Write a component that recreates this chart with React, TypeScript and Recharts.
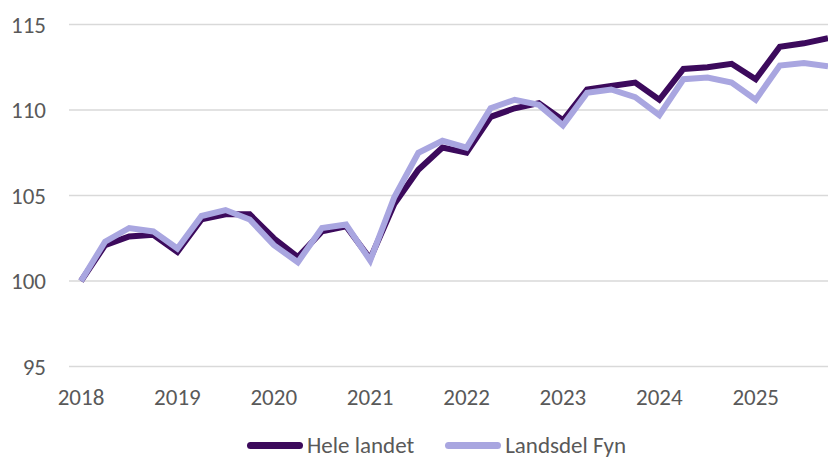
import React from 'react';
import { LineChart, Line, XAxis, YAxis, CartesianGrid, Legend } from 'recharts';

// quarterly index, 2018 K1 = 100
const quarters = [
  '2018K1', '2018K2', '2018K3', '2018K4',
  '2019K1', '2019K2', '2019K3', '2019K4',
  '2020K1', '2020K2', '2020K3', '2020K4',
  '2021K1', '2021K2', '2021K3', '2021K4',
  '2022K1', '2022K2', '2022K3', '2022K4',
  '2023K1', '2023K2', '2023K3', '2023K4',
  '2024K1', '2024K2', '2024K3', '2024K4',
  '2025K1', '2025K2', '2025K3', '2025K4',
];

const heleLandet = [
  100.0, 102.1, 102.6, 102.7,
  101.7, 103.6, 103.9, 103.9,
  102.5, 101.4, 102.9, 103.2,
  101.3, 104.5, 106.5, 107.8,
  107.5, 109.6, 110.1, 110.4,
  109.4, 111.2, 111.4, 111.6,
  110.6, 112.4, 112.5, 112.7,
  111.8, 113.7, 113.9, 114.2,
];

const landsdelFyn = [
  100.0, 102.3, 103.1, 102.9,
  101.9, 103.8, 104.15, 103.6,
  102.1, 101.1, 103.1, 103.3,
  101.2, 104.9, 107.5, 108.2,
  107.8, 110.1, 110.6, 110.3,
  109.1, 111.0, 111.2, 110.75,
  109.7, 111.8, 111.9, 111.6,
  110.6, 112.6, 112.75, 112.55,
];

const yTicks = [95, 100, 105, 110, 115];

const seriesNames = ['Hele landet', 'Landsdel Fyn'];
const colors = ['#3c0a5c', '#a9a6e0'];

const font = 'Calibri, Carlito, "Liberation Sans", Arial, sans-serif';
const textColor = '#595959';
const fontSize = 23;

function LegendContent() {
  return (
    <div style={{ display: 'flex', alignItems: 'center', fontFamily: font, fontSize, color: textColor, lineHeight: '28px' }}>
      {seriesNames.map((name, i) => (
        <div key={name} style={{ display: 'flex', alignItems: 'center', marginRight: i === 0 ? 31 : 0 }}>
          <span style={{ display: 'inline-block', width: 56, height: 7, borderRadius: 4, background: colors[i], marginRight: 4 }} />
          <span>{name}</span>
        </div>
      ))}
    </div>
  );
}

export default function App() {
  const data = quarters.map((q, i) => ({
    name: q,
    hele: heleLandet[i],
    fyn: landsdelFyn[i],
  }));

  return (
    <div style={{ position: 'absolute', left: 0, top: 0, width: 828, height: 460, overflow: 'hidden', background: '#fff' }}>
      <LineChart width={840} height={460} data={data} margin={{ top: 24.5, right: 0, bottom: 0, left: 0 }}>
        <CartesianGrid vertical={false} stroke="#d9d9d9" strokeWidth={1.5} />
        <XAxis
          dataKey="name"
          interval={3}
          padding={{ left: 12, right: 12 }}
          axisLine={false}
          tickLine={false}
          tickSize={0}
          tickMargin={22}
          height={93.5}
          tick={{ fill: textColor, fontSize, fontFamily: font }}
          tickFormatter={(v: string) => v.slice(0, 4)}
        />
        <YAxis
          domain={[95, 115]}
          ticks={yTicks}
          width={69}
          axisLine={false}
          tickLine={false}
          tickSize={0}
          tickMargin={23}
          tick={{ fill: textColor, fontSize, fontFamily: font }}
        />
        <Legend
          verticalAlign="middle"
          layout="horizontal"
          align="center"
          content={() => <LegendContent />}
          wrapperStyle={{ position: 'absolute', top: 431, left: 247, width: 560 }}
        />
        <Line
          dataKey="hele"
          name={seriesNames[0]}
          stroke={colors[0]}
          strokeWidth={6}
          dot={false}
          activeDot={false}
          isAnimationActive={false}
        />
        <Line
          dataKey="fyn"
          name={seriesNames[1]}
          stroke={colors[1]}
          strokeWidth={6}
          dot={false}
          activeDot={false}
          isAnimationActive={false}
        />
      </LineChart>
    </div>
  );
}
